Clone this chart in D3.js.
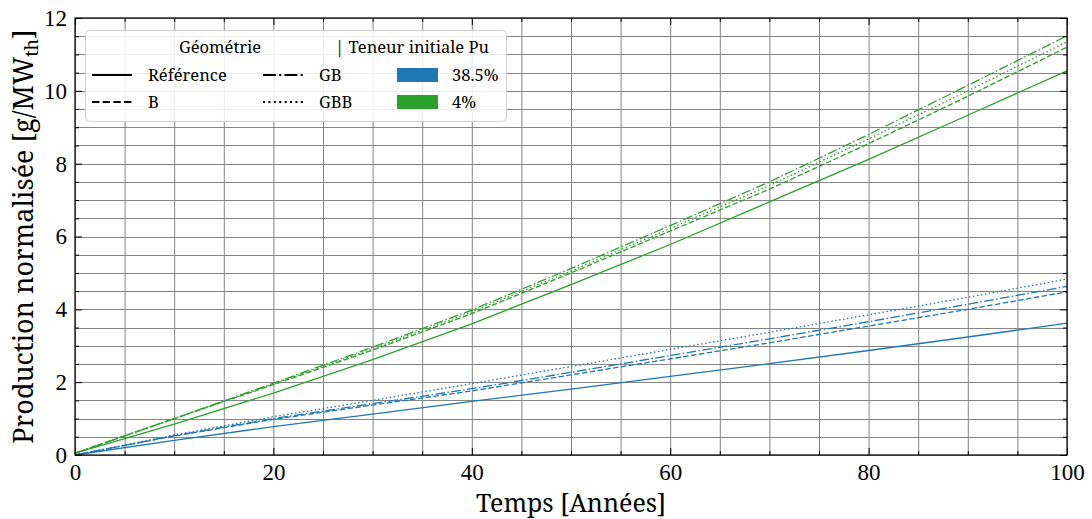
<!DOCTYPE html>
<html><head><meta charset="utf-8">
<script src="https://cdn.jsdelivr.net/npm/d3@7"></script>
<style>
html,body{margin:0;padding:0;background:#fff;}
svg{display:block;}
text{fill:#000;}
</style></head>
<body><svg id="c" width="1092" height="519"></svg>
<script>
const years = [0,10,20,30,40,50,60,70,80,90,100];
const geometries = ["Référence","B","GB","GBB"];
const puContents = ["38.5%","4%"];
// blue: 38.5% Pu
const blueRef = [0,0.40,0.78,1.12,1.47,1.81,2.16,2.51,2.87,3.24,3.62];
const blueB   = [0,0.52,0.98,1.37,1.76,2.20,2.64,3.08,3.54,4.00,4.48];
const blueGB  = [0,0.53,1.00,1.41,1.82,2.27,2.73,3.19,3.66,4.14,4.63];
const blueGBB = [0,0.55,1.05,1.50,1.96,2.43,2.90,3.37,3.85,4.33,4.83];
// green: 4% Pu
const greenRef = [0.05,0.85,1.70,2.62,3.60,4.68,5.78,6.95,8.12,9.33,10.55];
const greenB   = [0.05,1.00,1.93,2.88,3.88,5.00,6.15,7.30,8.55,9.85,11.20];
const greenGB  = [0.05,1.00,1.97,2.96,3.98,5.12,6.30,7.50,8.80,10.15,11.51];
const greenGBB = [0.05,1.00,1.95,2.92,3.93,5.05,6.22,7.40,8.68,10.00,11.35];
const xTicks = [0,20,40,60,80,100];
const yTicks = [0,2,4,6,8,10,12];

const colors = {"38.5%":"#1f77b4","4%":"#2ca02c"};
const dashes = {"Référence":null,"B":"5.5,2.4","GB":"9.6,2.4,1.5,2.4","GBB":"1.5,2.5"};
const series = [
  {g:"Référence",p:"38.5%",v:blueRef},{g:"B",p:"38.5%",v:blueB},{g:"GB",p:"38.5%",v:blueGB},{g:"GBB",p:"38.5%",v:blueGBB},
  {g:"Référence",p:"4%",v:greenRef},{g:"B",p:"4%",v:greenB},{g:"GB",p:"4%",v:greenGB},{g:"GBB",p:"4%",v:greenGBB}
];

const L=75,R=1067,T=18,B=455;
const svg=d3.select("#c");
const x=d3.scaleLinear().domain([0,100]).range([L,R]);
const y=d3.scaleLinear().domain([0,12]).range([B,T]);
const DIG="'Liberation Serif'";
const TXT="'Noto Serif'";

// grid
const gx=d3.range(0,101,5), gy=d3.range(0,12.01,0.5);
svg.append("g").selectAll("line").data(gx).join("line")
  .attr("x1",d=>x(d)+0.5).attr("x2",d=>x(d)+0.5).attr("y1",T).attr("y2",B)
  .attr("stroke","#858585").attr("stroke-width",1);
svg.append("g").selectAll("line").data(gy).join("line")
  .attr("y1",d=>Math.round(y(d))+0.5).attr("y2",d=>Math.round(y(d))+0.5).attr("x1",L).attr("x2",R)
  .attr("stroke","#858585").attr("stroke-width",1);

// lines
const line=d3.line().x((d,i)=>x(years[i])).y(d=>y(d));
svg.append("g").selectAll("path").data(series).join("path")
  .attr("d",d=>line(d.v)).attr("fill","none")
  .attr("stroke",d=>colors[d.p]).attr("stroke-width",1.3)
  .attr("stroke-dasharray",d=>dashes[d.g]);

// axes with inward ticks
function addAxis(axis, transform){
  const g=svg.append("g").attr("transform",transform).call(axis);
  g.select(".domain").remove();
  g.selectAll("line").attr("stroke","#000").attr("stroke-width",1);
  return g;
}
const fs=23;
const minorX=d3.range(0,101,5).filter(d=>d%20), minorY=d3.range(0,12.01,0.5).filter(d=>d%2);
const xa=addAxis(d3.axisBottom(x).tickValues(xTicks).tickSize(-7).tickPadding(9).tickFormat(d3.format("d")),`translate(0,${B})`);
xa.selectAll("text").attr("font-size",fs).style("font-family",DIG).attr("dy","0.71em");
addAxis(d3.axisBottom(x).tickValues(minorX).tickSize(-4).tickFormat(""),`translate(0,${B})`);
addAxis(d3.axisTop(x).tickValues(xTicks).tickSize(-7).tickFormat(""),`translate(0,${T})`);
addAxis(d3.axisTop(x).tickValues(minorX).tickSize(-4).tickFormat(""),`translate(0,${T})`);
const ya=addAxis(d3.axisLeft(y).tickValues(yTicks).tickSize(-7).tickPadding(8).tickFormat(d3.format("d")),`translate(${L},0)`);
ya.selectAll("text").attr("font-size",fs).style("font-family",DIG);
addAxis(d3.axisLeft(y).tickValues(minorY).tickSize(-4).tickFormat(""),`translate(${L},0)`);
addAxis(d3.axisRight(y).tickValues(yTicks).tickSize(-7).tickFormat(""),`translate(${R},0)`);
addAxis(d3.axisRight(y).tickValues(minorY).tickSize(-4).tickFormat(""),`translate(${R},0)`);

// frame
svg.append("rect").attr("x",L).attr("y",T).attr("width",R-L).attr("height",B-T)
  .attr("fill","none").attr("stroke","#000").attr("stroke-width",1.2);

// axis labels
svg.append("text").attr("x",(L+R)/2).attr("y",512).attr("text-anchor","middle")
  .style("font-family",TXT).attr("font-size",25).text("Temps [Années]");
const yl=svg.append("text").attr("transform",`translate(33,${(T+B)/2}) rotate(-90)`)
  .attr("text-anchor","middle").style("font-family",TXT).attr("font-size",27);
yl.append("tspan").text("Production normalisée [g/MW");
yl.append("tspan").attr("font-size",18).attr("dy",5).text("th");
yl.append("tspan").attr("dy",-5).text("]");

// legend
const lg=svg.append("g");
lg.append("rect").attr("x",85.5).attr("y",30.5).attr("width",421).attr("height",91).attr("rx",4)
  .attr("fill","#fff").attr("fill-opacity",0.85).attr("stroke","#d0d0d0").attr("stroke-width",1);
const lfs=16.5;
lg.append("text").attr("x",220).attr("y",53).attr("text-anchor","middle").style("font-family",TXT).attr("font-size",lfs).text("Géométrie");
lg.append("text").attr("x",335).attr("y",53).style("font-family",TXT).attr("font-size",lfs).text("| Teneur initiale Pu");
const geoPos=[{g:"Référence",x:92,y:75},{g:"B",x:92,y:102},{g:"GB",x:263,y:75},{g:"GBB",x:263,y:102}];
geoPos.forEach(p=>{
  lg.append("line").attr("x1",p.x).attr("x2",p.x+40).attr("y1",p.y).attr("y2",p.y)
    .attr("stroke","#000").attr("stroke-width",2).attr("stroke-dasharray",dashes[p.g]? dashes[p.g].split(",").map(v=>v*1.35).join(","):null);
  lg.append("text").attr("x",p.x+56).attr("y",p.y+6).style("font-family",TXT).attr("font-size",lfs).text(p.g);
});
puContents.forEach((p,i)=>{
  const yy=[75,102][i];
  lg.append("rect").attr("x",397).attr("y",yy-7).attr("width",41).attr("height",14).attr("fill",colors[p]);
  lg.append("text").attr("x",452).attr("y",yy+6).style("font-family",TXT).attr("font-size",lfs).text(p);
});
</script></body></html>
